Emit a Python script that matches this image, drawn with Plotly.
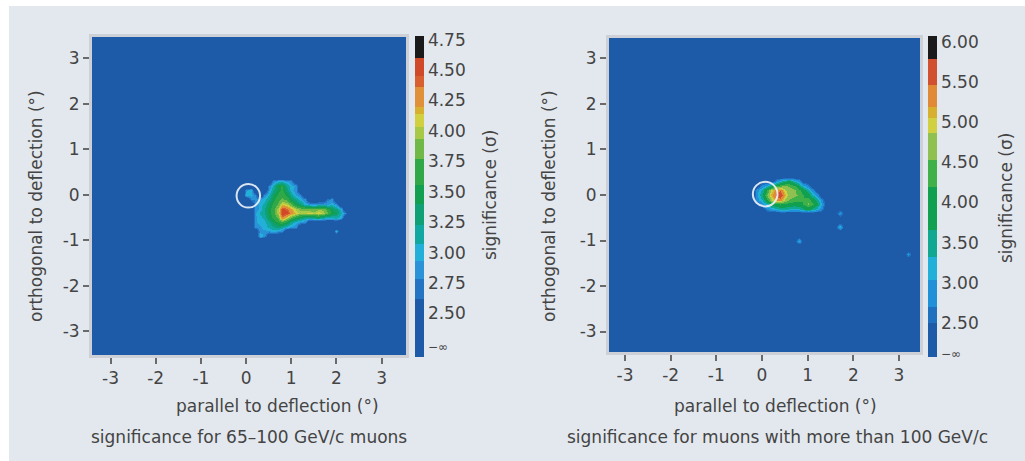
import numpy as np
import plotly.graph_objects as go

# ---------------- data ----------------
GRID_STEP = 0.1
GRID_MIN = -3.6
GRID_N = 73
B = 2.2  # background ("-inf") level

LEFT_BLOB_X = [0.0, 0.1, 0.2, 0.3, 0.4, 0.5, 0.6, 0.7, 0.8, 0.9, 1.0, 1.1,
               1.2, 1.3, 1.4, 1.5, 1.6, 1.7, 1.8, 1.9, 2.0, 2.1, 2.2]
LEFT_BLOB_Y = [0.3, 0.2, 0.1, 0.0, -0.1, -0.2, -0.3, -0.4, -0.5, -0.6, -0.7, -0.8, -0.9]
LEFT_BLOB_Z = [
    [B, B, B, B, B, B, 2.8, 3.0, 3.0, 2.9, 2.8, B, B, B, B, B, B, B, B, B, B, B, B],
    [B, B, B, B, B, 2.8, 3.1, 3.5, 3.6, 3.2, 3.0, 2.9, B, B, B, B, B, B, B, B, B, B, B],
    [2.9, 3.0, B, B, B, 2.9, 3.2, 3.5, 3.6, 3.3, 3.0, 2.8, B, B, B, B, B, B, B, B, B, B, B],
    [3.0, 3.0, 2.8, B, 2.8, 3.1, 3.4, 3.6, 3.7, 3.5, 3.2, 2.9, 2.8, B, B, B, B, B, B, B, B, B, B],
    [B, 2.8, 2.8, 2.9, 3.0, 3.2, 3.5, 3.7, 3.8, 3.7, 3.4, 3.2, 3.0, 2.8, B, B, B, B, 2.7, 2.8, B, B, B],
    [B, B, 2.8, 3.0, 3.1, 3.4, 3.6, 3.8, 4.1, 4.0, 3.8, 3.5, 3.3, 3.0, 2.9, 2.8, 2.9, 2.9, 2.9, 3.0, 2.8, B, B],
    [B, B, 2.8, 3.0, 3.2, 3.5, 3.7, 4.0, 4.5, 4.4, 4.2, 4.0, 3.9, 3.9, 3.8, 3.8, 3.9, 3.9, 3.7, 3.4, 3.3, 3.0, B],
    [B, B, 2.9, 3.1, 3.2, 3.5, 3.7, 4.0, 4.58, 4.5, 4.3, 4.1, 4.0, 4.0, 4.1, 4.0, 4.1, 4.0, 3.8, 3.5, 3.4, 3.1, 2.8],
    [B, B, 2.9, 3.0, 3.1, 3.4, 3.6, 3.8, 4.3, 4.0, 3.7, 3.5, 3.3, 3.2, 3.1, 3.2, 3.3, 3.1, 3.0, 3.0, 3.1, 2.9, B],
    [B, B, 2.9, 3.0, 3.0, 3.2, 3.4, 3.6, 3.7, 3.5, 3.2, 3.0, 2.9, 2.8, B, B, B, B, B, B, B, B, B],
    [B, B, 2.8, 2.9, 3.0, 3.1, 3.2, 3.3, 3.2, 3.0, 2.9, 2.8, B, B, B, B, B, B, B, B, B, B, B],
    [B, B, B, 2.9, 2.9, 2.9, 3.0, 2.9, 2.8, B, B, B, B, B, B, B, B, B, B, B, 3.0, B, B],
    [B, B, B, 3.0, 2.9, B, B, B, B, B, B, B, B, B, B, B, B, B, B, B, B, B, B],
]

RIGHT_BLOB_X = [-0.2, -0.1, 0.0, 0.1, 0.2, 0.3, 0.4, 0.5, 0.6, 0.7, 0.8, 0.9,
                1.0, 1.1, 1.2, 1.3, 1.4]
RIGHT_BLOB_Y = [0.3, 0.2, 0.1, 0.0, -0.1, -0.2, -0.3]
RIGHT_BLOB_Z = [
    [B, B, B, B, B, 2.8, 3.2, 3.6, 3.8, 3.3, 2.9, B, B, B, B, B, B],
    [B, B, 2.9, 3.2, 3.8, 4.2, 4.5, 4.6, 4.5, 4.3, 3.8, 3.2, 2.8, B, B, B, B],
    [B, 2.9, 3.4, 4.2, 4.9, 5.3, 5.4, 4.9, 4.7, 4.6, 4.3, 3.9, 3.4, 2.9, B, B, B],
    [B, 3.0, 3.6, 4.6, 5.1, 5.5, 5.75, 5.1, 4.7, 4.6, 4.5, 4.2, 3.9, 3.4, 2.9, B, B],
    [B, 2.9, 3.3, 4.1, 4.8, 5.2, 5.3, 4.8, 4.5, 4.4, 4.3, 4.2, 4.4, 4.0, 3.5, 2.9, B],
    [B, B, 2.9, 3.3, 3.8, 4.1, 4.2, 4.1, 4.0, 3.9, 4.0, 4.2, 4.6, 4.3, 3.8, 3.1, B],
    [B, B, B, 2.8, 3.0, 3.2, 3.4, 3.4, 3.3, 3.2, 3.3, 3.6, 3.9, 3.6, 3.2, 2.8, B],
]
RIGHT_SPECK_X = [1.7, 1.7, 0.8, 3.2]
RIGHT_SPECK_Y = [-0.4, -0.7, -1.0, -1.3]
RIGHT_SPECK_Z = [3.0, 3.3, 3.1, 2.9]

CIRCLE_LEFT = (0.05, -0.02, 0.26)
CIRCLE_RIGHT = (0.07, 0.02, 0.27)

AXIS_TICKVALS = [-3, -2, -1, 0, 1, 2, 3]
AXIS_TICKTEXT = ["-3", "-2", "-1", "0", "1", "2", "3"]

NEG_INF = "<span style='font-size:12px'>−∞</span>"
LEFT_TICKVALS = [2.24, 2.5, 2.75, 3.0, 3.25, 3.5, 3.75, 4.0, 4.25, 4.5, 4.75]
LEFT_TICKTEXT = [NEG_INF, "2.50", "2.75", "3.00", "3.25", "3.50", "3.75", "4.00", "4.25", "4.50", "4.75"]
RIGHT_TICKVALS = [2.14, 2.5, 3.0, 3.5, 4.0, 4.5, 5.0, 5.5, 6.0]
RIGHT_TICKTEXT = [NEG_INF, "2.50", "3.00", "3.50", "4.00", "4.50", "5.00", "5.50", "6.00"]

LEFT_RANGE = (2.143, 4.78)
RIGHT_RANGE = (2.08, 6.07)
LEFT_BANDS = [2.62, 2.78, 2.93, 3.07, 3.23, 3.40, 3.56, 3.77, 3.93, 4.03, 4.14, 4.20, 4.36, 4.45, 4.60]
LEFT_COLORS = ["#1d5ba8", "#2474c4", "#2a93d8", "#22b0d8", "#10a8a0", "#10a075", "#12a050",
               "#30a848", "#70b848", "#a8c848", "#d0d040", "#d8b030", "#e09038", "#d86030",
               "#d04a2a", "#1a1a1a"]
RIGHT_BANDS = [2.50, 2.70, 3.04, 3.32, 3.66, 4.19, 4.53, 4.87, 5.05, 5.19, 5.46, 5.78]
RIGHT_COLORS = ["#1d5ba8", "#2070c0", "#2090d8", "#22b0d8", "#10a890", "#10a050", "#40b048",
                "#90c050", "#d0d040", "#d8b030", "#e08a38", "#d05030", "#1a1a1a"]

# ---------------- build ----------------
grid = np.round(GRID_MIN + GRID_STEP * np.arange(GRID_N), 1)


def idx(v):
    return int(round((v - GRID_MIN) / GRID_STEP))


def build_z(bx, by, bz, sx=(), sy=(), sz=()):
    z = np.full((GRID_N, GRID_N), B)
    for j, yv in enumerate(by):
        for i, xv in enumerate(bx):
            z[idx(yv), idx(xv)] = bz[j][i]
    for xv, yv, v in zip(sx, sy, sz):
        z[idx(yv), idx(xv)] = v
    return z


def scale(rng, bands, colors):
    lo, hi = rng
    edges = [lo] + bands + [hi]
    cs = []
    for k, c in enumerate(colors):
        a = (edges[k] - lo) / (hi - lo)
        b = (edges[k + 1] - lo) / (hi - lo)
        cs.append([max(0, a), c])
        cs.append([min(1, b), c])
    cs[0][0] = 0.0
    cs[-1][0] = 1.0
    return cs


zl = build_z(LEFT_BLOB_X, LEFT_BLOB_Y, LEFT_BLOB_Z)
zr = build_z(RIGHT_BLOB_X, RIGHT_BLOB_Y, RIGHT_BLOB_Z, RIGHT_SPECK_X, RIGHT_SPECK_Y, RIGHT_SPECK_Z)

W, H = 1025, 461
FONT = "DejaVu Sans"
TXT = "#444444"


def px(x):
    return x / W


def py(y):
    return 1 - y / H


def cbar(x_left, ticks, texts):
    return dict(x=px(x_left), xanchor="left", xpad=0, ypad=0,
                y=py(36), yanchor="top", len=(357 - 36) / H, lenmode="fraction",
                thickness=9, thicknessmode="pixels", outlinewidth=0,
                tickvals=ticks, ticktext=texts, ticks="",
                tickfont=dict(family=FONT, size=17, color=TXT))


fig = go.Figure()
fig.add_trace(go.Heatmap(x=grid, y=grid, z=zl, zsmooth="best",
                         colorscale=scale(LEFT_RANGE, LEFT_BANDS, LEFT_COLORS),
                         zmin=LEFT_RANGE[0], zmax=LEFT_RANGE[1],
                         colorbar=cbar(415, LEFT_TICKVALS, LEFT_TICKTEXT),
                         xaxis="x", yaxis="y", hoverinfo="skip"))
fig.add_trace(go.Heatmap(x=grid, y=grid, z=zr, zsmooth="best",
                         colorscale=scale(RIGHT_RANGE, RIGHT_BANDS, RIGHT_COLORS),
                         zmin=RIGHT_RANGE[0], zmax=RIGHT_RANGE[1],
                         colorbar=cbar(928, RIGHT_TICKVALS, RIGHT_TICKTEXT),
                         xaxis="x2", yaxis="y2", hoverinfo="skip"))

ax_common = dict(tickvals=AXIS_TICKVALS, ticktext=AXIS_TICKTEXT, ticks="outside", ticklen=6,
                 tickcolor="#6a6a6a", tickwidth=1.5, showgrid=False, zeroline=False,
                 showline=True, mirror=True, linecolor="#cdd1d7", linewidth=3,
                 tickfont=dict(family=FONT, size=17, color=TXT))

fig.update_layout(
    width=W, height=H, margin=dict(l=0, r=0, t=0, b=0),
    paper_bgcolor="#e3e8ee", plot_bgcolor="#1d5ba8", showlegend=False,
    xaxis=dict(domain=[px(92), px(406)], range=[-3.41, 3.54], anchor="y", **ax_common),
    yaxis=dict(domain=[py(355), py(37)], range=[-3.52, 3.47], anchor="x", **ax_common),
    xaxis2=dict(domain=[px(609), px(920)], range=[-3.35, 3.46], anchor="y2", **ax_common),
    yaxis2=dict(domain=[py(352), py(38)], range=[-3.45, 3.45], anchor="x2", **ax_common),
)

shapes = [
    dict(type="rect", xref="paper", yref="paper", x0=0, x1=1, y0=py(6), y1=1,
         fillcolor="white", line=dict(width=0), layer="below"),
    dict(type="rect", xref="paper", yref="paper", x0=0, x1=px(9), y0=0, y1=1,
         fillcolor="white", line=dict(width=0), layer="below"),
]
for (cx, cy, r), xr, yr in [(CIRCLE_LEFT, "x", "y"), (CIRCLE_RIGHT, "x2", "y2")]:
    shapes.append(dict(type="circle", xref=xr, yref=yr, x0=cx - r, x1=cx + r,
                       y0=cy - r, y1=cy + r, line=dict(color="rgba(240,244,250,0.9)", width=2)))
fig.update_layout(shapes=shapes)

anns = [
    ("parallel to deflection (°)", 277, 406, 0),
    ("significance for 65–100 GeV/c muons", 249, 437, 0),
    ("parallel to deflection (°)", 775, 406, 0),
    ("significance for muons with more than 100 GeV/c", 777, 437, 0),
    ("orthogonal to deflection (°)", 36, 206, -90),
    ("orthogonal to deflection (°)", 549, 206, -90),
    ("significance (σ)", 490, 195, -90),
    ("significance (σ)", 1006, 198, -90),
]
for text, x, y, ang in anns:
    fig.add_annotation(text=text, x=px(x), y=py(y), xref="paper", yref="paper",
                       xanchor="center", yanchor="middle", showarrow=False, textangle=ang,
                       font=dict(family=FONT, size=17, color=TXT))

fig.write_html("out.html", config={"displayModeBar": False},
               post_script="document.body.style.margin='0';document.body.style.overflow='hidden';")
